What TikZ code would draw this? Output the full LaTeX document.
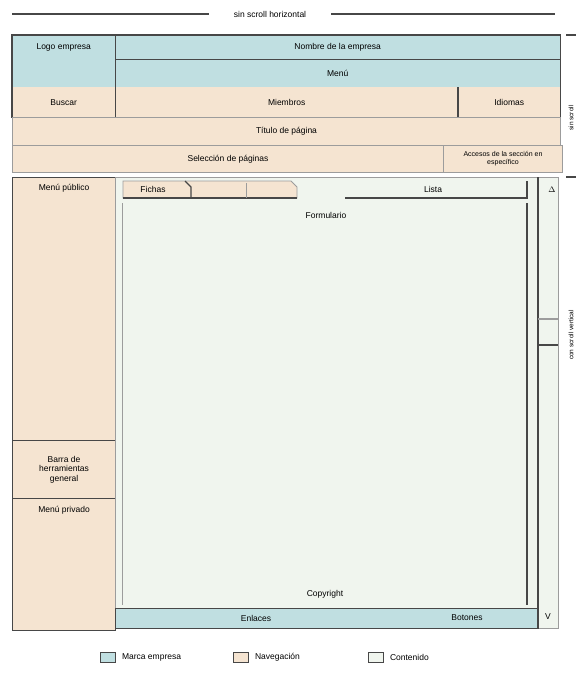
\documentclass[tikz,border=0pt]{standalone}
\usepackage{fontspec}
\setmainfont{Liberation Sans}
\usetikzlibrary{positioning}
\definecolor{mb}{HTML}{C0DFE1}
\definecolor{nv}{HTML}{F5E4D1}
\definecolor{ct}{HTML}{F0F5EE}
\definecolor{dk}{HTML}{474747}
\definecolor{lg}{HTML}{9C9C9C}

\begin{document}
\begin{tikzpicture}[x=1pt,y=-1pt,
  txt/.style={inner sep=0pt, align=center, font=\fontsize{8.5}{9.5}\selectfont},
  cell/.style={txt, anchor=north west, minimum width=#1},
  hline/.style={dk, line width=1.1pt},
  sline/.style={lg, line width=0.8pt}]
  \useasboundingbox[fill=white] (0,0) rectangle (576,675);

  % titulo superior
  \node[txt] (scrollh) at (270,14) {sin scroll horizontal};
  \draw[hline] (12,14) -- ([xshift=-25pt]scrollh.west);
  \draw[hline] ([xshift=25pt]scrollh.east) -- (555,14);

  % cabecera
  \node[cell=103pt, fill=mb, minimum height=52pt] (logo) at (12,35) {};
  \node[txt, below=8pt of logo.north] (logotx) {Logo empresa};
  \node[cell=445pt, fill=mb, minimum height=24pt] (nombre) at (115,35) {Nombre de la empresa};
  \node[cell=445pt, fill=mb, minimum height=28pt] (menu) at (115,59) {Menú};
  \node[cell=103pt, fill=nv, minimum height=30pt] (buscar) at (12,87) {Buscar};
  \node[cell=343pt, fill=nv, minimum height=30pt] (miembros) at (115,87) {Miembros};
  \node[cell=102pt, fill=nv, minimum height=30pt] (idiomas) at (458,87) {Idiomas};
  \draw[hline] (logo.north west) rectangle (idiomas.south east);
  \draw[hline] (logo.north east) -- (buscar.south east);
  \draw[hline] (nombre.south west) -- (nombre.south east);
  \draw[hline] (idiomas.north west) -- (idiomas.south west);

  \node[cell=548pt, fill=nv, draw=lg, line width=1pt, minimum height=28pt] (titulo) at (12,117) {Título de página};
  \node[cell=431pt, fill=nv, draw=lg, line width=1pt, minimum height=27pt] (seleccion) at (12,145) {Selección de páginas};
  \node[cell=119pt, fill=nv, draw=lg, line width=1pt, minimum height=27pt,
        font=\fontsize{7}{8}\selectfont] (acceso) at (443,145) {Accesos de la sección en\\específico};

  % columna izquierda
  \node[cell=103pt, fill=nv, draw=dk, line width=1.1pt, minimum height=263pt] (publico) at (12,177) {};
  \node[txt, below=7pt of publico.north] (publicotx) {Menú público};
  \node[cell=103pt, fill=nv, draw=dk, line width=1.1pt, minimum height=58pt] (barra) at (12,440) {Barra de\\herramientas\\general};
  \node[cell=103pt, fill=nv, draw=dk, line width=1.1pt, minimum height=132pt] (privado) at (12,498) {};
  \node[txt, below=8pt of privado.north] (privadotx) {Menú privado};

  % contenido
  \node[cell=423pt, fill=ct, draw=lg, line width=1pt, minimum height=431pt] (cont) at (115,177) {};
  \draw[sline] (122,203) -- (122,605);
  \draw[hline] (527,203) -- (527,605);
  \filldraw[sline, fill=nv] (123,198) -- (123,181) -- (291,181) -- (297,187) -- (297,198) -- cycle;
  \draw[hline] (123,198) -- (297,198);
  \draw[hline] (185,181) -- (191,187) -- (191,198);
  \draw[sline] (246,183) -- (246,198);
  \node[txt] (fichas) at (153,189) {Fichas};
  \draw[hline] (345,198) -- (527,198) -- (527,181);
  \node[txt] (lista) at (433,189) {Lista};
  \node[txt] (formulario) at (326,215) {Formulario};
  \node[txt] (copy) at (325,594) {Copyright};

  \node[cell=423pt, fill=mb, draw=dk, line width=1.1pt, minimum height=20pt] (pie) at (115,608) {};
  \node[txt] (enlaces) at (256,618) {Enlaces};
  \node[txt] (botones) at (467,618) {Botones};

  % barra de scroll
  \node[cell=20pt, fill=ct, draw=lg, line width=1pt, minimum height=451pt] (scroll) at (538,177) {};
  \draw[hline] (scroll.north west) -- (scroll.south west);
  \node[txt] (arriba) at (552,190) {$\Delta$};
  \node[txt] (abajo) at (548,617) {V};
  \draw[sline, line width=1.1pt] (538,319) -- (558,319);
  \draw[hline, line width=1.5pt] (538,345) -- (558,345);

  % lado derecho
  \draw[hline] (566,35) -- (576,35);
  \draw[hline] (566,177) -- (576,177);
  \node[txt, rotate=90, font=\fontsize{6.5}{7}\selectfont] (fijo) at (571,118) {sin scroll};
  \node[txt, rotate=90, font=\fontsize{6.5}{7}\selectfont] (vertical) at (571,335) {con scroll vertical};

  % leyenda
  \node[cell=15pt, fill=mb, draw=dk, line width=0.8pt, minimum height=10pt] (lmb) at (100,652) {};
  \node[txt, right=6pt of lmb] (lmbtx) {Marca empresa};
  \node[cell=15pt, fill=nv, draw=dk, line width=0.8pt, minimum height=10pt] (lnv) at (233,652) {};
  \node[txt, right=6pt of lnv] (lnvtx) {Navegación};
  \node[cell=15pt, fill=ct, draw=dk, line width=0.8pt, minimum height=10pt] (lct) at (368,652) {};
  \node[txt, right=6pt of lct] (lcttx) {Contenido};
\end{tikzpicture}
\end{document}
